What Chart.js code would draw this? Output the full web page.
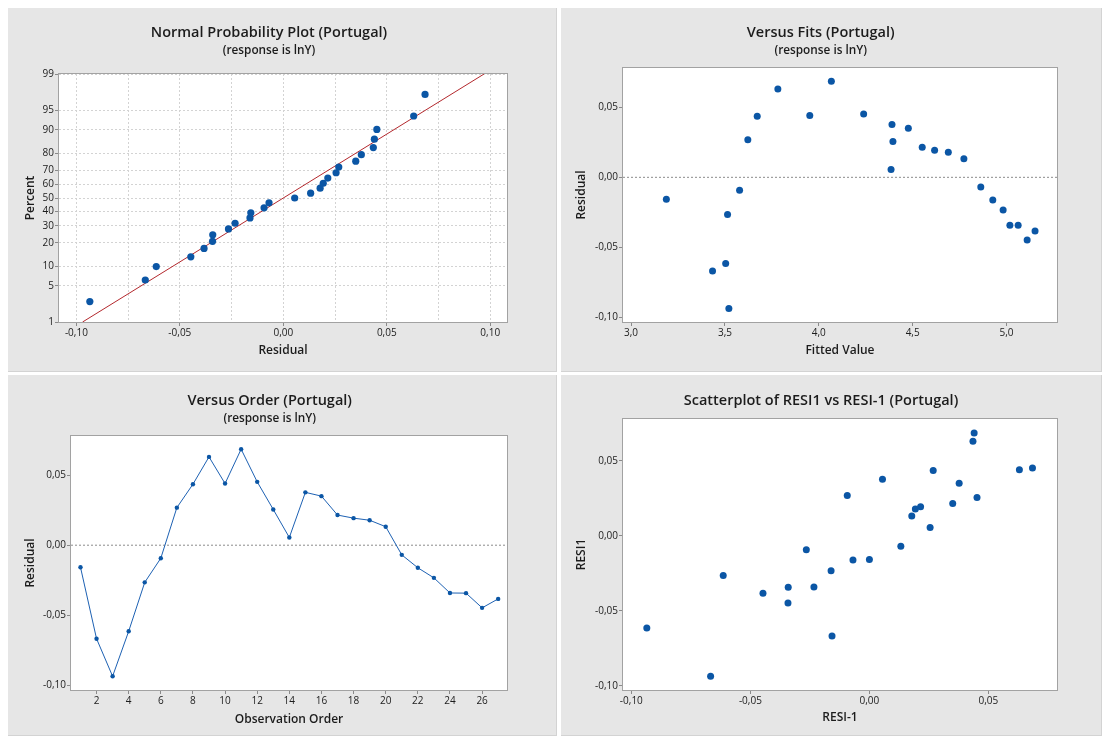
<!DOCTYPE html>
<html>
<head>
<meta charset="utf-8">
<title>Residual Plots for lnY (Portugal)</title>
<script src="https://cdn.jsdelivr.net/npm/chart.js@4.4.1/dist/chart.umd.min.js"></script>
<style>
  html, body { margin: 0; padding: 0; background: #fff; }
  #page { position: relative; width: 1102px; height: 736px; overflow: hidden; background: #fff; }
  .panel { position: absolute; background: #e6e6e6; box-shadow: inset -1px -1px 0 #d3d3d3; }
  .panel canvas { position: absolute; left: 0; top: 0; }
</style>
</head>
<body>
<div id="page">
  <div class="panel" style="left:8px;top:8px;width:549px;height:364px"><canvas id="normalPlot" width="549" height="364"></canvas></div>
  <div class="panel" style="left:561px;top:8px;width:541px;height:364px"><canvas id="fitsPlot" width="541" height="364"></canvas></div>
  <div class="panel" style="left:8px;top:375px;width:549px;height:361px"><canvas id="orderPlot" width="549" height="361"></canvas></div>
  <div class="panel" style="left:561px;top:375px;width:541px;height:361px"><canvas id="lagPlot" width="541" height="361"></canvas></div>
</div>
<script>
// ---- Data: residuals of the lnY regression for Portugal ----
const observationOrder = [1, 2, 3, 4, 5, 6, 7, 8, 9, 10, 11, 12, 13, 14, 15, 16, 17, 18, 19, 20, 21, 22, 23, 24, 25, 26, 27];

// RESI1
const residuals = [-0.0157, -0.0667, -0.0935, -0.0614, -0.0265, -0.0093, 0.0268, 0.0435, 0.0630,
                   0.0440, 0.0685, 0.0452, 0.0255, 0.0055, 0.0377, 0.0350, 0.0215, 0.0193,
                   0.0178, 0.0132, -0.0069, -0.0161, -0.0233, -0.0341, -0.0342, -0.0447, -0.0383];

// FITS1
const fittedValues = [3.188, 3.434, 3.521, 3.504, 3.514, 3.578, 3.622, 3.672, 3.782,
                      3.952, 4.067, 4.239, 4.395, 4.385, 4.390, 4.477, 4.551, 4.617,
                      4.690, 4.773, 4.863, 4.927, 4.982, 5.018, 5.062, 5.110, 5.152];

// RESI-1 (first row has no predecessor and is stored as 0)
const residualLag1 = [0, -0.0157, -0.0667, -0.0935, -0.0614, -0.0265, -0.0093, 0.0268, 0.0435,
                      0.0630, 0.0440, 0.0685, 0.0452, 0.0255, 0.0055, 0.0377, 0.0350, 0.0215,
                      0.0193, 0.0178, 0.0132, -0.0069, -0.0161, -0.0233, -0.0341, -0.0342, -0.0447];

// Cumulative percent of each ranked residual
const normalPercents = [2.6, 6.2, 9.9, 13.5, 17.2, 20.8, 24.5, 28.1, 31.8, 35.4, 39.1, 42.7, 46.4, 50.0,
                        53.6, 57.3, 60.9, 64.6, 68.2, 71.9, 75.5, 79.2, 82.8, 86.5, 90.1, 93.8, 97.4];

// Fitted normal reference line
const fitMean = 0.0;
const fitStdDev = 0.0417;

// Tick values
const percentTicks = [1, 5, 10, 20, 30, 40, 50, 60, 70, 80, 90, 95, 99];
const normalResidualTicks = [-0.10, -0.075, -0.05, -0.025, 0, 0.025, 0.05, 0.075, 0.10];
const residualTicks = [-0.10, -0.05, 0, 0.05];
const fittedTicks = [3.0, 3.5, 4.0, 4.5, 5.0];
const orderTicks = [2, 4, 6, 8, 10, 12, 14, 16, 18, 20, 22, 24, 26];

// ---- Helpers ----
const BLUE = '#0b56a5';
const LINE_BLUE = '#1d61b3';
const RED = '#b3282d';
const TICK_MARK = '#8a8a8a';
const TEXT = '#1c1c1c';

Chart.defaults.font.family = "'Open Sans', 'Noto Sans', sans-serif";
Chart.defaults.color = TEXT;

// inverse standard normal CDF (probability axis)
function probit(p) {
  const a = [-3.969683028665376e+01, 2.209460984245205e+02, -2.759285104469687e+02, 1.383577518672690e+02, -3.066479806614716e+01, 2.506628277459239e+00];
  const b = [-5.447609879822406e+01, 1.615858368580409e+02, -1.556989798598866e+02, 6.680131188771972e+01, -1.328068155288572e+01];
  const c = [-7.784894002430293e-03, -3.223964580411365e-01, -2.400758277161838e+00, -2.549732539343734e+00, 4.374664141464968e+00, 2.938163982698783e+00];
  const d = [7.784695709041462e-03, 3.224671290700398e-01, 2.445134137142996e+00, 3.754408661907416e+00];
  const pl = 0.02425, ph = 1 - pl;
  let q, r;
  if (p < pl) {
    q = Math.sqrt(-2 * Math.log(p));
    return (((((c[0]*q+c[1])*q+c[2])*q+c[3])*q+c[4])*q+c[5]) / ((((d[0]*q+d[1])*q+d[2])*q+d[3])*q+1);
  }
  if (p > ph) {
    q = Math.sqrt(-2 * Math.log(1 - p));
    return -(((((c[0]*q+c[1])*q+c[2])*q+c[3])*q+c[4])*q+c[5]) / ((((d[0]*q+d[1])*q+d[2])*q+d[3])*q+1);
  }
  q = p - 0.5; r = q * q;
  return (((((a[0]*r+a[1])*r+a[2])*r+a[3])*r+a[4])*r+a[5])*q / (((((b[0]*r+b[1])*r+b[2])*r+b[3])*r+b[4])*r+1);
}

const comma = (v, digits) => (Math.abs(v) < 1e-12 ? 0 : v).toFixed(digits).replace('.', ',');
const fixedSize = px => s => { if (s.isHorizontal()) s.height = px; else s.width = px; };
const useTicks = values => s => { s.ticks = values.map(v => ({ value: v })); };

function axis(o) {
  const vertical = o.position === 'left';
  return {
    type: 'linear',
    position: o.position,
    min: o.min,
    max: o.max,
    afterBuildTicks: useTicks(o.ticks),
    afterFit: fixedSize(o.size),
    ticks: { autoSkip: false, maxRotation: 0, padding: 1, color: TEXT, font: { size: 10 }, callback: o.label },
    grid: {
      display: true,
      drawOnChartArea: !!o.grid,
      color: '#d3d3d3',
      lineWidth: 1,
      tickLength: 4,
      tickWidth: 1,
      tickColor: o.tickColor || TICK_MARK
    },
    border: { display: false, dash: [2, 2] },
    title: {
      display: true,
      text: o.title,
      color: TEXT,
      font: { size: 12, weight: '600' },
      padding: vertical ? { top: o.titlePad, bottom: 0 } : { top: 0, bottom: o.titlePad }
    }
  };
}

// white plot area with a grey frame
const plotFrame = {
  id: 'plotFrame',
  beforeDraw(chart) {
    const { ctx, chartArea: a } = chart;
    ctx.save();
    ctx.fillStyle = '#ffffff';
    ctx.fillRect(a.left, a.top, a.right - a.left, a.bottom - a.top);
    ctx.restore();
  },
  beforeDatasetsDraw(chart) {
    const { ctx, chartArea: a } = chart;
    ctx.save();
    ctx.strokeStyle = '#a2a2a2';
    ctx.lineWidth = 1;
    ctx.strokeRect(Math.round(a.left) - 0.5, Math.round(a.top) - 0.5,
                   Math.round(a.right - a.left) + 1, Math.round(a.bottom - a.top) + 1);
    ctx.restore();
  }
};

// graph title and subtitle
const panelHeading = {
  id: 'panelHeading',
  afterDraw(chart, args, o) {
    const ctx = chart.ctx;
    ctx.save();
    ctx.fillStyle = TEXT;
    ctx.textAlign = 'center';
    ctx.textBaseline = 'alphabetic';
    ctx.font = "600 14.5px 'Open Sans', 'Noto Sans', sans-serif";
    ctx.fillText(o.text, o.x, o.y);
    if (o.subtitle) {
      ctx.font = "600 11.8px 'Open Sans', 'Noto Sans', sans-serif";
      ctx.fillText(o.subtitle, o.x, o.subY);
    }
    ctx.restore();
  }
};

const baseOptions = (padding, heading) => ({
  responsive: false,
  animation: false,
  events: [],
  layout: { padding },
  plugins: { legend: { display: false }, tooltip: { enabled: false }, panelHeading: heading }
});

const residualLabel = v => comma(v, 2);

// ---- Normal probability plot ----
const ranked = residuals.slice().sort((a, b) => a - b);
const zLow = probit(percentTicks[0] / 100);
const zHigh = probit(percentTicks[percentTicks.length - 1] / 100);

new Chart(document.getElementById('normalPlot'), {
  type: 'scatter',
  data: {
    datasets: [
      {
        data: ranked.map((r, i) => ({ x: r, y: probit(normalPercents[i] / 100) })),
        pointRadius: 3.6, pointHoverRadius: 3.6, pointBorderWidth: 0,
        pointBackgroundColor: BLUE, backgroundColor: BLUE
      },
      {
        data: [{ x: fitMean + fitStdDev * zLow, y: zLow }, { x: fitMean + fitStdDev * zHigh, y: zHigh }],
        showLine: true, borderColor: RED, borderWidth: 1, pointRadius: 0
      }
    ]
  },
  options: Object.assign(baseOptions({ left: 0, top: 66, right: 50, bottom: 0 },
    { text: 'Normal Probability Plot (Portugal)', subtitle: '(response is lnY)', x: 261, y: 29.3, subY: 46 }), {
    scales: {
      x: axis({ position: 'bottom', min: -0.1084, max: 0.1081, ticks: normalResidualTicks, size: 50, grid: true,
                label: (v, i) => (i % 2 === 0 ? comma(v, 2) : ''),
                tickColor: c => (c.index % 2 === 0 ? TICK_MARK : 'rgba(0,0,0,0)'),
                title: 'Residual', titlePad: 14.7 }),
      y: axis({ position: 'left', min: zLow, max: zHigh, ticks: percentTicks.map(p => probit(p / 100)), size: 51, grid: true,
                label: (v, i) => String(percentTicks[i]),
                title: 'Percent', titlePad: 15 })
    }
  }),
  plugins: [plotFrame, panelHeading]
});

// ---- Versus fits ----
const fitsRange = [2.957, 5.269];
new Chart(document.getElementById('fitsPlot'), {
  type: 'scatter',
  data: {
    datasets: [
      {
        data: fittedValues.map((f, i) => ({ x: f, y: residuals[i] })),
        pointRadius: 3.5, pointHoverRadius: 3.5, pointBorderWidth: 0,
        pointBackgroundColor: BLUE, backgroundColor: BLUE
      },
      {
        data: [{ x: fitsRange[0], y: 0 }, { x: fitsRange[1], y: 0 }],
        showLine: true, borderColor: '#8c8c8c', borderWidth: 1, borderDash: [2, 2], pointRadius: 0
      }
    ]
  },
  options: Object.assign(baseOptions({ left: 0, top: 60, right: 45, bottom: 0 },
    { text: 'Versus Fits (Portugal)', subtitle: '(response is lnY)', x: 259.7, y: 29.3, subY: 46 }), {
    scales: {
      x: axis({ position: 'bottom', min: fitsRange[0], max: fitsRange[1], ticks: fittedTicks, size: 50,
                label: v => comma(v, 1), title: 'Fitted Value', titlePad: 13.9 }),
      y: axis({ position: 'left', min: -0.1031, max: 0.0779, ticks: residualTicks, size: 62,
                label: residualLabel, title: 'Residual', titlePad: 13.6 })
    }
  }),
  plugins: [plotFrame, panelHeading]
});

// ---- Versus order ----
const orderRange = [0.41, 27.55];
new Chart(document.getElementById('orderPlot'), {
  type: 'scatter',
  data: {
    datasets: [
      {
        data: observationOrder.map((n, i) => ({ x: n, y: residuals[i] })),
        showLine: true, borderColor: LINE_BLUE, borderWidth: 1, tension: 0,
        pointRadius: 2.2, pointHoverRadius: 2.2, pointBorderWidth: 0,
        pointBackgroundColor: BLUE, backgroundColor: BLUE
      },
      {
        data: [{ x: orderRange[0], y: 0 }, { x: orderRange[1], y: 0 }],
        showLine: true, borderColor: '#8c8c8c', borderWidth: 1, borderDash: [2, 2], pointRadius: 0
      }
    ]
  },
  options: Object.assign(baseOptions({ left: 0, top: 61, right: 50, bottom: 0 },
    { text: 'Versus Order (Portugal)', subtitle: '(response is lnY)', x: 261.7, y: 29.7, subY: 46.7 }), {
    scales: {
      x: axis({ position: 'bottom', min: orderRange[0], max: orderRange[1], ticks: orderTicks, size: 46,
                label: v => String(v), title: 'Observation Order', titlePad: 9.7 }),
      y: axis({ position: 'left', min: -0.1033, max: 0.0779, ticks: residualTicks, size: 63,
                label: residualLabel, title: 'Residual', titlePad: 14.9 })
    }
  }),
  plugins: [plotFrame, panelHeading]
});

// ---- Lag-1 scatterplot ----
new Chart(document.getElementById('lagPlot'), {
  type: 'scatter',
  data: {
    datasets: [
      {
        data: residualLag1.map((lag, i) => ({ x: lag, y: residuals[i] })),
        pointRadius: 3.5, pointHoverRadius: 3.5, pointBorderWidth: 0,
        pointBackgroundColor: BLUE, backgroundColor: BLUE
      }
    ]
  },
  options: Object.assign(baseOptions({ left: 0, top: 44, right: 45, bottom: 0 },
    { text: 'Scatterplot of RESI1 vs RESI-1 (Portugal)', x: 260, y: 29.7 }), {
    scales: {
      x: axis({ position: 'bottom', min: -0.1035, max: 0.0788, ticks: residualTicks, size: 46,
                label: residualLabel, title: 'RESI-1', titlePad: 10.9 }),
      y: axis({ position: 'left', min: -0.1027, max: 0.0778, ticks: residualTicks, size: 62,
                label: residualLabel, title: 'RESI1', titlePad: 13.4 })
    }
  }),
  plugins: [plotFrame, panelHeading]
});
</script>
</body>
</html>
